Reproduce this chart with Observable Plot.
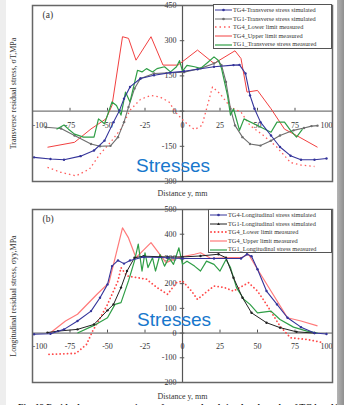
<!DOCTYPE html>
<html><head><meta charset="utf-8">
<script src="https://cdn.jsdelivr.net/npm/d3@7"></script>
<script src="https://cdn.jsdelivr.net/npm/@observablehq/plot@0.6"></script>
<style>
html,body{margin:0;padding:0;background:#fff;}
#wrap{position:relative;width:344px;height:405px;overflow:hidden;background:#fff;}
.pl{position:absolute;left:0;}
.leg{position:absolute;background:#fff;border:1px solid #555;font-family:"Liberation Serif",serif;font-size:6.3px;color:#333;box-sizing:border-box;padding-top:1px;}
.row{height:8.6px;line-height:8.6px;white-space:nowrap;display:flex;align-items:center;}
.row svg{flex:none;margin:0 1px 0 1px;}
.stress{position:absolute;font-family:"Liberation Sans",Arial,sans-serif;font-size:19px;color:#1777cc;transform:translate(-50%,-50%);white-space:nowrap;}
.cap{position:absolute;left:18px;top:402px;font-family:"Liberation Serif",serif;font-weight:bold;font-size:9px;line-height:10px;color:#222;white-space:nowrap;}
</style></head>
<body><div id="wrap"></div>
<script>
// ---- tick labels ----
const xTicks = [-100, -75, -50, -25, 0, 25, 50, 75, 100];
const yTicksA = [-300, -150, 0, 150, 300, 450];
const yTicksB = [-200, -100, 0, 100, 200, 300, 400, 500];

// ---- panel (a): transverse stress ----
const aTG4Sim = [[-99,-197],[-88,-204],[-79,-207],[-68,-192],[-59,-168],[-52,-126],[-46,-47],[-42,3],[-39,53],[-35,103],[-28,139],[-19,153],[-8,164],[1,170],[10,178],[21,189],[34,196],[38,197],[42,160],[45,67],[48,10],[52,-47],[59,-104],[65,-153],[72,-190],[79,-207],[88,-207],[96,-202]];
const aTG1Sim = [[-91,-69],[-81,-74],[-72,-104],[-61,-140],[-55,-150],[-48,-148],[-43,-111],[-39,-47],[-36,17],[-32,96],[-28,139],[-19,160],[1,166],[12,182],[21,203],[24,213],[26,196],[29,124],[32,10],[35,-61],[40,-111],[45,-140],[52,-147],[59,-126],[65,-104],[74,-82],[81,-72],[86,-64],[90,-62]];
const aLower = [[-90,-240],[-81,-261],[-71,-276],[-62,-247],[-55,-183],[-48,-133],[-41,-76],[-35,4],[-28,50],[-21,67],[-15,60],[-9,39],[-4,-9],[1,-43],[8,-79],[13,-61],[20,103],[25,74],[32,17],[39,-4],[45,-61],[54,-104],[63,-154],[72,-219],[79,-230],[88,-236]];
const aUpper = [[-90,-154],[-72,-133],[-61,-76],[-51,-33],[-47,24],[-40,317],[-36,310],[-31,217],[-21,317],[-13,196],[-3,196],[10,260],[21,203],[35,257],[39,224],[43,81],[50,88],[59,10],[68,-77],[76,-104],[90,-154]];
const aTG1Meas = [[-84,-77],[-79,-59],[-76,-77],[-72,-98],[-66,-111],[-59,-111],[-56,-33],[-52,-54],[-47,39],[-44,24],[-41,-17],[-38,81],[-35,39],[-30,174],[-27,167],[-24,181],[-20,167],[-17,181],[-12,189],[-8,167],[-4,189],[-2,215],[0,170],[3,195],[8,189],[12,182],[16,203],[21,231],[24,216],[26,182],[30,67],[32,-17],[34,10],[38,-82],[41,-33],[50,-61],[59,-90],[63,-47],[68,-47],[72,-82],[76,-111],[80,-77]];

// ---- panel (b): longitudinal stress ----
const bTG4Sim = [[-99,-5],[-88,-3],[-79,15],[-70,49],[-61,89],[-55,143],[-50,197],[-47,271],[-43,294],[-39,281],[-35,294],[-26,308],[-10,305],[0,302],[21,302],[39,302],[43,319],[46,311],[50,258],[56,170],[63,116],[70,62],[79,24],[88,0],[96,-4]];
const bTG1Sim = [[-90,2],[-83,8],[-70,15],[-59,35],[-50,92],[-46,116],[-41,184],[-37,251],[-32,305],[-26,311],[-10,308],[0,308],[12,312],[24,319],[29,305],[34,224],[40,143],[46,82],[56,42],[65,22],[76,5],[88,0]];
const bLower = [[-89,-86],[-71,-82],[-64,-46],[-60,7],[-56,49],[-50,116],[-43,211],[-41,265],[-37,231],[-30,224],[-24,218],[-17,184],[-10,157],[-4,204],[0,211],[6,170],[10,136],[14,157],[21,190],[28,184],[34,170],[44,204],[50,170],[56,116],[65,28],[72,-19],[83,-26],[94,-39]];
const bUpper = [[-88,1],[-78,49],[-70,76],[-57,157],[-49,204],[-40,426],[-36,385],[-31,305],[-21,366],[-11,285],[-3,305],[8,319],[12,325],[19,302],[32,305],[39,305],[44,319],[50,258],[70,62],[79,49],[90,29]];
const bTG1Meas = [[-70,0],[-59,31],[-50,62],[-45,116],[-41,123],[-36,211],[-32,292],[-29.5,360],[-27,251],[-25,325],[-23,265],[-20,305],[-18,251],[-15,318],[-12,271],[-9,305],[-6,278],[-2.4,345],[0,278],[3,291],[8,271],[12,251],[16,291],[21,278],[25,251],[29,298],[32,265],[36,184],[41,136],[45,116],[50,82],[59,89],[65,55],[74,24],[83,8],[90,0]];

const legA = ["TG4-Transverse stress simulated","TG1-Transverse stress simulated","TG4_Lower limit measured","TG4_Upper limit measured","TG1_Transverse stress measured"];
const legB = ["TG4-Longitudinal stress simulated","TG1-Longitudinal stress simulated","TG4_Lower limit measured","TG4_Upper limit measured","TG1_Longitudinal stress measured"];

const C = {blue:"#34349a", gray:"#6e6e6e", black:"#222", red:"#f24040", pink:"#ff7a7a", green:"#2f9e46"};
const FONT = "Liberation Serif, serif";

function panel(o) {
  const inner = xTicks.filter(d => d !== -100 && d !== 100);
  return Plot.plot({
    width: 344, height: o.height,
    marginLeft: 32, marginRight: 12, marginTop: o.mt, marginBottom: o.mb,
    x: {domain: [-100, 100], axis: null},
    y: {domain: o.ydomain, axis: null},
    style: {fontFamily: FONT, background: "transparent", overflow: "visible"},
    marks: [
      Plot.ruleY([0], {stroke: "#555", strokeWidth: 1}),
      Plot.ruleX([0], {stroke: "#555", strokeWidth: 1.2}),
      Plot.ruleX(xTicks.filter(d => d !== 0), {x: d => d, y1: 0, y2: o.tickLen, stroke: "#555"}),
      Plot.ruleY(o.yTicks, {y: d => d, x1: -1.5, x2: 1.5, stroke: "#555"}),
      Plot.text(inner, {x: d => d, y: 0, dy: o.xdy, text: d => String(d), fontSize: 8, fill: "#333"}),
      Plot.text([-100], {x: d => d, y: 0, dy: o.xdy, text: d => String(d), fontSize: 8, fill: "#333", textAnchor: "start"}),
      Plot.text([100], {x: d => d, y: 0, dy: o.xdy, text: d => String(d), fontSize: 8, fill: "#333", textAnchor: "end"}),
      Plot.text(o.yTicks, {x: 0, y: d => d, dx: -6, text: d => String(d), fontSize: 8, fill: "#333", textAnchor: "end"}),
      ...o.series,
      Plot.frame({stroke: "#666", strokeWidth: 1.5}),
      Plot.text([o.tag], {frameAnchor: "top-left", dx: 10, dy: 6, fontSize: 9.5, fill: "#333"}),
      Plot.text([o.ytitle], {frameAnchor: "left", rotate: -90, dx: -19, textAnchor: "middle", lineAnchor: "middle", fontSize: 8, fill: "#333"}),
      Plot.text(["Distance y, mm"], {frameAnchor: "bottom", dy: o.titleDy, lineAnchor: "middle", fontSize: 8, fill: "#333"})
    ]
  });
}

function simLine(data, color, sw) {
  return [
    Plot.line(data, {x: d => d[0], y: d => d[1], stroke: color, strokeWidth: sw}),
    Plot.dot(data, {x: d => d[0], y: d => d[1], r: 1.2, fill: color, stroke: "none"})
  ];
}
function plain(data, color, sw, dash, cap) {
  return Plot.line(data, {x: d => d[0], y: d => d[1], stroke: color, strokeWidth: sw, strokeDasharray: dash, strokeLinecap: cap || "butt"});
}

const plotA = panel({
  height: 200, mt: 5, mb: 19, ydomain: [-300, 450], yTicks: yTicksA, tickLen: 12, xdy: 14, titleDy: 12,
  tag: "(a)", ytitle: "Transverse residual stress, \u03c3T,MPa",
  series: [
    plain(aUpper, C.red, 1),
    plain(aLower, "#ff5c5c", 1.3, "1.5,3"),
    ...simLine(aTG1Sim, C.gray, 1.1),
    plain(aTG1Meas, C.green, 1.2),
    ...simLine(aTG4Sim, C.blue, 1.1)
  ]
});
const plotB = panel({
  height: 205, mt: 9, mb: 23, ydomain: [-200, 500], yTicks: yTicksB, tickLen: 12, xdy: 13, titleDy: 14,
  tag: "(b)", ytitle: "Longitudinal residual stress, \u03c3yy,MPa",
  series: [
    plain(bLower, "#ff4a4a", 1.8, "0.1,3.6", "round"),
    plain(bUpper, C.pink, 1.2),
    plain(bTG1Meas, C.green, 1.2),
    ...simLine(bTG1Sim, C.black, 1),
    ...simLine(bTG4Sim, C.blue, 1.1)
  ]
});

const wrap = document.getElementById("wrap");
plotA.classList.add("pl"); plotA.style.top = "0px";
plotB.classList.add("pl"); plotB.style.top = "200px";
wrap.appendChild(plotA); wrap.appendChild(plotB);

function sample(kind) {
  const s = {
    blue: `<line x1="0" y1="3" x2="17" y2="3" stroke="${C.blue}" stroke-width="1"/><circle cx="8.5" cy="3" r="1.3" fill="${C.blue}"/>`,
    gray: `<line x1="0" y1="3" x2="17" y2="3" stroke="${C.gray}" stroke-width="1"/><circle cx="8.5" cy="3" r="1.3" fill="${C.gray}"/>`,
    black: `<line x1="0" y1="3" x2="17" y2="3" stroke="${C.black}" stroke-width="1"/><path d="M8.5,1.4 L10,4 L7,4Z" fill="${C.black}"/>`,
    dot: `<line x1="0" y1="3" x2="17" y2="3" stroke="#ff5c5c" stroke-width="1.3" stroke-dasharray="1.5,3"/>`,
    dotB: `<line x1="1" y1="3" x2="17" y2="3" stroke="#ff4a4a" stroke-width="1.8" stroke-dasharray="0.1,3.6" stroke-linecap="round"/>`,
    red: `<line x1="0" y1="3" x2="17" y2="3" stroke="${C.red}" stroke-width="1"/>`,
    pink: `<line x1="0" y1="3" x2="17" y2="3" stroke="${C.pink}" stroke-width="1.2"/>`,
    green: `<line x1="0" y1="3" x2="17" y2="3" stroke="${C.green}" stroke-width="1.2"/>`
  }[kind];
  return `<svg width="17" height="6">${s}</svg>`;
}
function legend(labels, kinds, left, top, w, h) {
  const d = document.createElement("div");
  d.className = "leg";
  Object.assign(d.style, {left: left + "px", top: top + "px", width: w + "px", height: h + "px"});
  d.innerHTML = labels.map((t, i) => `<div class="row">${sample(kinds[i])}<span>${t}</span></div>`).join("");
  wrap.appendChild(d);
}
legend(legA, ["blue","gray","dot","red","green"], 213, 4, 119, 45);
legend(legB, ["blue","black","dotB","pink","green"], 208, 209, 124, 44);

for (const [x, y] of [[173, 166], [174, 320]]) {
  const s = document.createElement("div");
  s.className = "stress"; s.textContent = "Stresses";
  s.style.left = x + "px"; s.style.top = y + "px";
  wrap.appendChild(s);
}
const cap = document.createElement("div");
cap.className = "cap";
cap.textContent = "Fig. 12 Residual stress comparisons of measured and simulated results of TG4 and TG1";
wrap.appendChild(cap);
const band = document.createElement("div");
Object.assign(band.style, {position: "absolute", left: "337px", top: "0", width: "7px", height: "405px", background: "linear-gradient(to right,#b5b5b5,#8f8f8f)"});
wrap.appendChild(band);
const lb = document.createElement("div");
Object.assign(lb.style, {position: "absolute", left: "0", top: "0", width: "6px", height: "405px", background: "#eeeeee"});
wrap.appendChild(lb);
</script></body></html>
